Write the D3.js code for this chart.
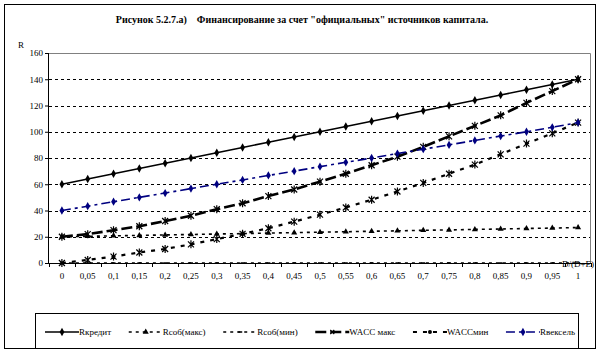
<!DOCTYPE html>
<html>
<head>
<meta charset="utf-8">
<script src="https://cdn.jsdelivr.net/npm/d3@7"></script>
<style>
  body { margin: 0; background: #fff; }
  svg text { font-family: "Liberation Serif", "Times New Roman", serif; fill: #000; }
</style>
</head>
<body>
<div id="wrapper"></div>
<script>
// data
const shares = ["0","0,05","0,1","0,15","0,2","0,25","0,3","0,35","0,4","0,45","0,5",
                "0,55","0,6","0,65","0,7","0,75","0,8","0,85","0,9","0,95","1"];
const rCredit   = [60,64,68,72,76,80,84,88,92,96,100,104,108,112,116,120,124,128,132,136,140];
const rOwnMax   = [20,20.3,20.7,21,21.4,21.7,22.1,22.4,22.8,23.1,23.5,23.8,24.2,24.5,24.9,25.2,25.6,25.9,26.3,26.6,27];
const rOwnMin   = [0,0,0,0,0,0,0,0,0,0,0,0,0,0,0,0,0,0,0,0,0];
const waccMax   = [20,22,25,28,32,36,41,45.5,51,56,62,68,74.5,81,88.5,96.5,104.5,112.5,122,131,140];
const waccMin   = [0,2.3,4.9,8,10.7,14.2,18.2,22.2,26.5,31.5,36.8,42.3,48.2,54.5,61,68,75,82.8,91,98.8,107];
const rBill     = [40,43.3,46.7,50,53.3,56.7,60,63.3,66.7,70,73.4,76.7,80,83.4,86.7,90,93.4,96.7,100,103.4,107];
const yTicks    = [0,20,40,60,80,100,120,140,160];

const series = [
  { name: "Rкредит",    values: rCredit, color: "#000", width: 1.6, dash: null,        marker: "diamond",  legendMarker: "diamond" },
  { name: "Rсоб(макс)", values: rOwnMax, color: "#000", width: 1.6, dash: "3,4",       marker: "triangle", legendMarker: "triangle" },
  { name: "Rсоб(мин)",  values: rOwnMin, color: "#000", width: 1.6, dash: "3,4",       marker: "dash",     legendMarker: "dash" },
  { name: "WACC макс",  values: waccMax, color: "#000", width: 2.6, dash: "11,4",      marker: "star",     legendMarker: "times" },
  { name: "WACCмин",    values: waccMin, color: "#000", width: 2.2, dash: "4,6",       marker: "star",     legendMarker: "dot" },
  { name: "Rвексель",   values: rBill,   color: "#000080", width: 1.6, dash: "9,4,3,4", marker: "diamond", legendMarker: "diamond" },
];

function drawChart() {
  const dimensions = {
    width: 599,
    height: 352,
    margin: { top: 53, right: 8, bottom: 89, left: 49 },
  };
  dimensions.boundedWidth = dimensions.width - dimensions.margin.left - dimensions.margin.right;
  dimensions.boundedHeight = dimensions.height - dimensions.margin.top - dimensions.margin.bottom;

  const wrapper = d3.select("#wrapper").append("svg")
      .attr("width", dimensions.width)
      .attr("height", dimensions.height);

  // outer frame
  wrapper.append("rect")
      .attr("x", 4.5).attr("y", 4.5)
      .attr("width", 591).attr("height", 344)
      .attr("fill", "#fff").attr("stroke", "#000").attr("stroke-width", 1);

  wrapper.append("text")
      .attr("x", 302).attr("y", 23)
      .attr("text-anchor", "middle")
      .attr("xml:space", "preserve")
      .style("font-size", "10px").style("font-weight", "bold")
      .text("Рисунок 5.2.7.а)    Финансирование за счет \"официальных\" источников капитала.");

  const bounds = wrapper.append("g")
      .attr("transform", `translate(${dimensions.margin.left},${dimensions.margin.top})`);

  // scales
  const xScale = d3.scaleBand()
    .domain(shares)
    .range([0, dimensions.boundedWidth]);
  const xCenter = s => xScale(s) + xScale.bandwidth() / 2;

  const yScale = d3.scaleLinear()
    .domain([0, 160])
    .range([dimensions.boundedHeight, 0]);

  // gridlines
  bounds.append("g").selectAll("line")
    .data(yTicks.filter(t => t > 0 && t < 160))
    .join("line")
      .attr("x1", 0).attr("x2", dimensions.boundedWidth)
      .attr("y1", d => Math.round(yScale(d)) + 0.5)
      .attr("y2", d => Math.round(yScale(d)) + 0.5)
      .attr("stroke", "#000").attr("stroke-dasharray", "3,3");

  // plot border top + right
  bounds.append("path")
      .attr("d", `M0,0.5H${dimensions.boundedWidth - 0.5}V${dimensions.boundedHeight}`)
      .attr("fill", "none").attr("stroke", "#808080");

  // axes
  const yAxis = bounds.append("g")
      .call(d3.axisLeft(yScale).tickValues(yTicks).tickSize(4).tickPadding(2).tickFormat(d3.format("d")));
  yAxis.select(".domain").attr("d", `M-0.5,0V${dimensions.boundedHeight}`);
  yAxis.selectAll("text").style("font-size", "9px");

  const xAxis = bounds.append("g")
      .attr("transform", `translate(0,${dimensions.boundedHeight})`);
  xAxis.append("line")
      .attr("x1", 0).attr("x2", dimensions.boundedWidth)
      .attr("y1", 0.5).attr("y2", 0.5)
      .attr("stroke", "#000");
  xAxis.selectAll(".tick")
    .data(shares.concat(["end"]))
    .join("line")
      .attr("x1", (d, i) => Math.round(i * xScale.bandwidth()) + 0.5)
      .attr("x2", (d, i) => Math.round(i * xScale.bandwidth()) + 0.5)
      .attr("y1", 0).attr("y2", 4)
      .attr("stroke", "#000");
  xAxis.selectAll(".lbl")
    .data(shares)
    .join("text")
      .attr("x", d => xCenter(d))
      .attr("y", 16)
      .attr("text-anchor", "middle")
      .style("font-size", "9px")
      .text(d => d);

  wrapper.append("text")
      .attr("x", 18).attr("y", 48)
      .style("font-size", "9px")
      .text("R");
  wrapper.append("text")
      .attr("x", 594).attr("y", 267)
      .attr("text-anchor", "end")
      .style("font-size", "9px")
      .text("D/(D+E)");

  // markers
  const starPath = r => `M${-r},${-r}L${r},${r}M${-r},${r}L${r},${-r}M0,${-r - 1}L0,${r + 1}`;
  function drawMarker(sel, type, color) {
    if (type === "diamond") {
      sel.append("path").attr("d", d3.symbol(d3.symbolDiamond, 20)()).attr("fill", color);
    } else if (type === "triangle") {
      sel.append("path").attr("d", d3.symbol(d3.symbolTriangle, 16)()).attr("fill", color);
    } else if (type === "dash") {
      sel.append("path").attr("d", "M-2,0H2").attr("stroke", color).attr("stroke-width", 1.5);
    } else if (type === "star") {
      sel.append("path").attr("d", starPath(3)).attr("stroke", color).attr("stroke-width", 1.2).attr("fill", "none");
    } else if (type === "times") {
      sel.append("path").attr("d", "M-2,-2L2,2M-2,2L2,-2").attr("stroke", color).attr("stroke-width", 1.2);
    } else if (type === "dot") {
      sel.append("circle").attr("r", 2).attr("fill", color);
    }
  }

  const lineGenerator = d3.line()
    .x((d, i) => xCenter(shares[i]))
    .y(d => yScale(d));

  series.forEach(s => {
    bounds.append("path")
        .attr("d", lineGenerator(s.values))
        .attr("fill", "none")
        .attr("stroke", s.color)
        .attr("stroke-width", s.width)
        .attr("stroke-dasharray", s.dash);
    bounds.append("g").selectAll("g")
      .data(s.values)
      .join("g")
        .attr("transform", (d, i) => `translate(${xCenter(shares[i])},${yScale(d)})`)
        .each(function () { drawMarker(d3.select(this), s.marker, s.color); });
  });

  // legend
  const legendBox = { x: 35.5, y: 313.5, w: 543, h: 35 };
  wrapper.append("rect")
      .attr("x", legendBox.x).attr("y", legendBox.y)
      .attr("width", legendBox.w).attr("height", legendBox.h)
      .attr("fill", "#fff").attr("stroke", "#000");

  const legend = wrapper.append("g");
  const lineLen = 34;
  const items = series.map(s => {
    const g = legend.append("g");
    const t = g.append("text")
        .attr("x", lineLen).attr("y", 3)
        .style("font-size", "9px")
        .text(s.name);
    return { s, g, w: lineLen + t.node().getComputedTextLength() };
  });
  const startX = 45, endX = 575;
  const total = d3.sum(items, d => d.w);
  const gap = (endX - startX - total) / (items.length - 1);
  let cx = startX;
  items.forEach(it => {
    it.g.attr("transform", `translate(${cx},332)`);
    it.g.insert("line", "text")
        .attr("x1", 0).attr("x2", lineLen)
        .attr("y1", 0).attr("y2", 0)
        .attr("stroke", it.s.color)
        .attr("stroke-width", it.s.width)
        .attr("stroke-dasharray", it.s.dash);
    const m = it.g.insert("g", "text").attr("transform", `translate(${lineLen / 2},0)`);
    drawMarker(m, it.s.legendMarker, it.s.color);
    cx += it.w + gap;
  });
}
drawChart();
</script>
</body>
</html>
